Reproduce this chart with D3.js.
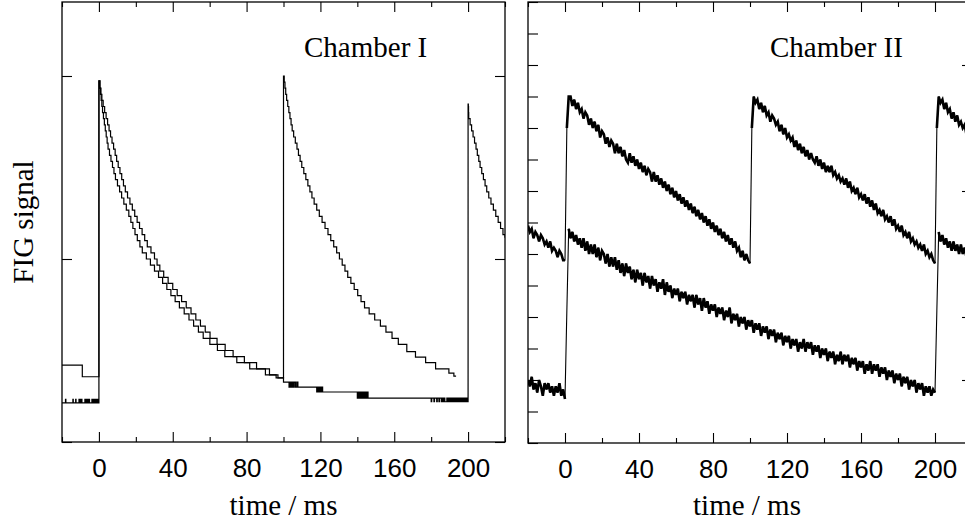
<!DOCTYPE html>
<html><head><meta charset="utf-8">
<script src="https://cdn.jsdelivr.net/npm/d3@7"></script>
<style>body{margin:0;background:#fff}svg{display:block}</style>
</head><body>
<script>
// ---------- DATA ----------
const xMajorTicks = [0, 40, 80, 120, 160, 200];
const xMinorTicks = [-20, 20, 60, 100, 140, 180, 220];
const chI_yTicks = [0, 30, 60];
const chII_yTicksLeft = [0,10,20,30,40,50,60,70,80,90,100,110,120,130,140];
const chII_yTicksRight = [20, 40, 80, 120];
const titles = ["Chamber I", "Chamber II"];
const xLabel = "time / ms";
const yLabel = "FIG signal";

// Chamber I, trace fired every 100 ms: [time ms, level]
const chI_trace1 = [[-20,12.6],[-9,10.7],[0,59.2],[0.6,58],[1.1,57],[1.6,56],[2.3,55],[3.1,54],[3.9,53],[4.7,52],[5.5,51],[6.3,50],[7.1,49],[7.95,48],[8.8,47],[9.6,46],[10.45,45],[11.4,44],[12.35,43],[13.3,42],[14.3,41],[15.5,40],[16.8,39],[18.1,38],[19.4,37],[20.7,36],[22,35],[23.4,34],[24.8,33],[26.2,32],[28.2,31],[30.1,30],[31.5,29],[33,28],[35.1,27],[37.5,26],[40,25],[42.4,24],[44.8,23],[47.3,22],[49.9,21],[52.5,20],[55,19],[57.6,18],[60.2,17],[64,16],[68.4,15],[72.7,14],[78.8,13],[85.4,12],[92.4,11],[97,10.5],
[100,60],[100.4,59],[100.8,58],[101.2,57],[101.7,56],[102.3,55],[102.9,54],[103.5,53],[104.1,52],[104.7,51],[105.5,50],[106.4,49],[107.3,48],[108.1,47],[109,46],[109.9,45],[111,44],[112.1,43],[113.2,42],[114.3,41],[115.4,40],[116.6,39],[118,38],[119.4,37],[120.9,36],[122.5,35],[124.1,34],[125.6,33],[127.2,32],[128.8,31],[130.3,30],[131.8,29],[133.3,28],[134.8,27],[136.5,26],[138.3,25],[140.2,24],[142,23],[143.9,22],[146.4,21],[149.4,20],[152.5,19],[155.5,18],[158.8,17],[162.2,16],[166.8,14.8],[171.5,13.9],[177,13],[182.4,12],[189.6,11.3],[192.3,10.8],[193.5,10.8]];

// Chamber I, trace fired every 200 ms
const chI_trace2 = [[-20,6.4],[-18.1,7],[-17.9,6.4],[-14.1,7],[-13.9,6.4],[-12.6,7],[-12.4,6.4],[-10.8,7],[-10.5,6.4],[-10.2,7],[-9.9,6.4],[-9.5,7],[-9.2,6.4],[-7.6,7],[-7.3,6.4],[-7,7],[-6.6,6.4],[-6.2,7],[-5.8,6.4],[-5.4,7],[-5.1,6.4],[-3.8,7],[-3.4,6.4],[-3,7],[-2.6,6.4],[-2.2,7],[-1.8,6.4],[-1.4,7],[-1,6.4],[-0.6,7],[-0.3,6.4],
[0,59.2],[0.45,58],[0.83,57],[1.2,56],[1.58,55],[1.96,54],[2.45,53],[2.95,52],[3.45,51],[3.95,50],[4.45,49],[4.95,48],[5.73,47],[6.53,46],[7.35,45],[8.15,44],[8.96,43],[10.05,42],[11.2,41],[12.3,40],[13.5,39],[14.85,38],[16.2,37],[17.3,36],[18.4,35],[19.55,34],[20.8,33],[22.2,32],[23.5,31],[25.7,30],[27.9,29],[30.1,28],[32.3,27],[34.5,26],[36.8,25],[39,24],[41.3,23],[43.6,22],[46.2,21],[48.8,20],[51.3,19],[53.9,18],[56.5,17],[60.1,16],[64.2,15],[68.2,14],[74.7,13],[81.7,12],[90.2,11],[96,10.5],
[100,9.8],[103,9],[103.5,9.8],[104,9],[104.6,9.8],[105.2,9],[105.8,9.8],[106.5,9],[107.2,9.8],[107.8,9],[118,8.2],[118.5,9],[119,8.2],[119.6,9],[120.2,8.2],[120.8,9],[121.2,8.2],[140,7.2],[140.5,8.2],[141,7.2],[141.6,8.2],[142.2,7.2],[142.8,8.2],[143.4,7.2],[144,8.2],[144.6,7.2],[145.2,8.2],[145.8,7.2],
[180,6.6],[180.3,7.2],[181.5,6.6],[181.8,7.2],[183,6.6],[183.3,7.2],[184.2,6.6],[184.5,7.2],[185.5,6.6],[186,7.2],[186.4,6.6],[187,7.2],[187.4,6.6],[188.5,7.2],[188.9,6.6],[189.4,7.2],[189.8,6.6],[190.3,7.2],[190.7,6.6],[191.2,7.2],[191.6,6.6],[192.1,7.2],[192.5,6.6],[193,7.2],[193.4,6.6],[193.9,7.2],[194.3,6.6],[194.8,7.2],[195.2,6.6],[195.7,7.2],[196.1,6.6],[196.6,7.2],[197,6.6],[197.5,7.2],[197.9,6.6],[198.4,7.2],[198.8,6.6],[199.3,7.2],[199.6,6.6],
[200,55.4],[200.15,55],[200.25,54],[200.35,53],[201.1,52],[201.9,51],[202.7,50],[203.5,49],[204.3,48],[205,47],[205.8,46],[206.5,45],[207.4,44],[208.3,43],[209.2,42],[210.1,41],[211.2,40],[212.4,39],[213.7,38],[215,37],[216.3,36],[217.6,35],[218.9,34],[220,33.5]];

// Chamber II: sampled every 1 ms from -20 to 220 ms
const chII_time = d3.range(-20, 221, 1);
const chII_upper = [69,67,68,65,67,66,64,66,65,63,64,62,64,61,62,61,59,61,60,58,58,
100,110,
110,107,109,106,108,105,106,103,105,104,101,103,100,102,99,101,97,99,98,95,97,94,96,95,92,95,92,94,91,93,90,89,92,89,91,88,90,87,89,86,88,85,87,86,83,86,83,85,82,84,81,83,80,82,79,81,78,80,77,79,76,78,75,77,74,76,73,75,72,74,71,73,70,72,69,71,68,70,67,69,66,68,65,67,64,66,63,65,62,64,61,62,59,61,58,60,58,57,
100,110,
108,109,106,108,105,107,104,105,102,104,103,101,102,99,101,98,100,97,98,96,97,94,96,93,95,92,94,91,93,90,92,90,89,91,88,90,87,89,86,88,86,88,85,86,84,85,83,84,82,84,81,83,80,81,79,81,78,79,77,79,76,78,75,77,74,76,73,74,72,74,71,72,70,72,69,71,68,69,67,69,66,67,65,67,64,65,63,64,62,63,61,63,60,61,59,60,58,57,
100,110,
108,109,106,108,105,106,103,105,102,104,101,102,100,101,98,100,97,99];
const chII_lower = [20,18,21,17,19,16,20,18,15,19,17,19,16,18,15,18,16,19,15,17,14,
42,
68,65,67,64,66,63,65,62,65,61,64,60,63,60,63,59,62,58,61,60,57,60,56,59,56,59,55,58,54,57,53,57,54,56,52,55,51,55,52,54,50,54,51,53,49,53,50,52,48,51,49,52,47,51,48,50,46,49,47,49,45,48,46,48,44,47,45,47,43,47,44,46,42,46,43,45,41,44,42,44,40,43,41,43,39,42,40,43,38,41,39,41,37,40,38,40,36,39,37,39,35,38,36,38,34,37,35,37,33,36,34,36,32,35,33,35,31,34,32,34,30,33,31,33,29,32,30,33,29,32,30,32,28,31,29,31,27,30,28,30,26,29,27,29,25,28,26,29,25,28,26,28,24,27,25,27,23,26,24,26,22,25,23,26,22,25,23,25,21,24,22,24,20,23,21,23,19,22,20,22,18,21,19,21,17,20,18,20,16,19,17,19,15,18,16,18,15,17,16,
42,
67,64,66,63,65,62,64,61,64,61,63,60,63,60,62,59,62,59,61];

// ---------- DRAW ----------
const W = 965, H = 527;
const svg = d3.select("body").append("svg").attr("width", W).attr("height", H);
const serif = "'Liberation Serif','Times New Roman',serif";
const sans = "'Liberation Sans',Arial,Helvetica,sans-serif";

// split a trace into runs at large jumps (so the rise is drawn thin)
function runs(data, thr) {
  const out = [];
  let cur = [data[0]];
  for (let i = 1; i < data.length; i++) {
    if (Math.abs(data[i][1] - data[i - 1][1]) > thr) { out.push(cur); cur = []; }
    cur.push(data[i]);
  }
  out.push(cur);
  return out.filter(r => r.length > 1);
}

function makePanel(p) {
  const x = d3.scaleLinear().domain([-20, 220]).range([p.x0, p.x1]);
  const y = d3.scaleLinear().domain(p.yDomain).range([p.yB, p.yT]);
  const g = svg.append("g");
  const clipId = "clip" + p.id;
  svg.append("clipPath").attr("id", clipId).append("rect")
    .attr("x", p.x0).attr("y", p.yT).attr("width", p.x1 - p.x0).attr("height", p.yB - p.yT);

  const plot = g.append("g").attr("clip-path", `url(#${clipId})`);
  p.lines.forEach(L => {
    const line = d3.line().x(d => x(d[0])).y(d => y(d[1])).curve(L.curve);
    plot.append("path").datum(L.data).attr("d", line)
      .attr("fill", "none").attr("stroke", "#000").attr("stroke-width", L.w)
      .attr("stroke-linejoin", "miter").attr("stroke-miterlimit", 3);
    if (L.thick) {
      runs(L.data, 15).forEach(r => {
        plot.append("path").datum(r).attr("d", line)
          .attr("fill", "none").attr("stroke", "#000").attr("stroke-width", L.thick)
          .attr("stroke-linejoin", "miter").attr("stroke-miterlimit", 3);
      });
    }
  });

  function axis(gen, tx, ty) {
    const a = g.append("g").attr("transform", `translate(${tx},${ty})`).call(gen);
    a.select(".domain").remove();
    a.selectAll(".tick line").attr("stroke", "#000").attr("stroke-width", 1.1);
    return a;
  }
  const bottom = axis(d3.axisBottom(x).tickValues(xMajorTicks).tickSize(-10).tickPadding(17).tickFormat(d3.format("d")), 0, p.yB);
  bottom.selectAll("text").attr("font-family", sans).attr("font-size", 26).attr("fill", "#000");
  axis(d3.axisBottom(x).tickValues(xMinorTicks).tickSize(-5).tickFormat(""), 0, p.yB);
  axis(d3.axisTop(x).tickValues(xMajorTicks).tickSize(-10).tickFormat(""), 0, p.yT);
  axis(d3.axisTop(x).tickValues(xMinorTicks).tickSize(-5).tickFormat(""), 0, p.yT);
  axis(d3.axisLeft(y).tickValues(p.leftTicks).tickSize(-10).tickFormat(""), p.x0, 0);
  axis(d3.axisRight(y).tickValues(p.rightTicks).tickSize(-10).tickFormat(""), p.x1, 0);

  g.append("rect").attr("x", p.x0).attr("y", p.yT).attr("width", p.x1 - p.x0).attr("height", p.yB - p.yT)
    .attr("fill", "none").attr("stroke", "#000").attr("stroke-width", 1.3);

  g.append("text").attr("x", p.titleX).attr("y", 57).text(p.title)
    .attr("font-family", serif).attr("font-size", 29).attr("fill", "#000");
  g.append("text").attr("x", p.labelX).attr("y", 515).attr("text-anchor", "middle").text(xLabel)
    .attr("font-family", serif).attr("font-size", 29).attr("fill", "#000");
}

makePanel({
  id: "I", x0: 62, x1: 505, yT: 2, yB: 442, yDomain: [0, 72.13],
  leftTicks: chI_yTicks, rightTicks: chI_yTicks,
  title: titles[0], titleX: 304, labelX: 283.5,
  lines: [
    { data: chI_trace1, curve: d3.curveStepAfter, w: 1.2 },
    { data: chI_trace2, curve: d3.curveStepAfter, w: 1.2 }
  ]
});
makePanel({
  id: "II", x0: 528, x1: 972, yT: 2, yB: 443, yDomain: [0, 140],
  leftTicks: chII_yTicksLeft, rightTicks: chII_yTicksRight,
  title: titles[1], titleX: 770, labelX: 747,
  lines: [
    { data: chII_time.map((t, i) => [t, chII_upper[i]]), curve: d3.curveLinear, w: 1.1, thick: 2.6 },
    { data: chII_time.map((t, i) => [t, chII_lower[i]]), curve: d3.curveLinear, w: 1.1, thick: 2.6 }
  ]
});

svg.append("text").attr("transform", "translate(33,222) rotate(-90)")
  .attr("text-anchor", "middle").text(yLabel)
  .attr("font-family", serif).attr("font-size", 29).attr("fill", "#000");
</script>
</body></html>
